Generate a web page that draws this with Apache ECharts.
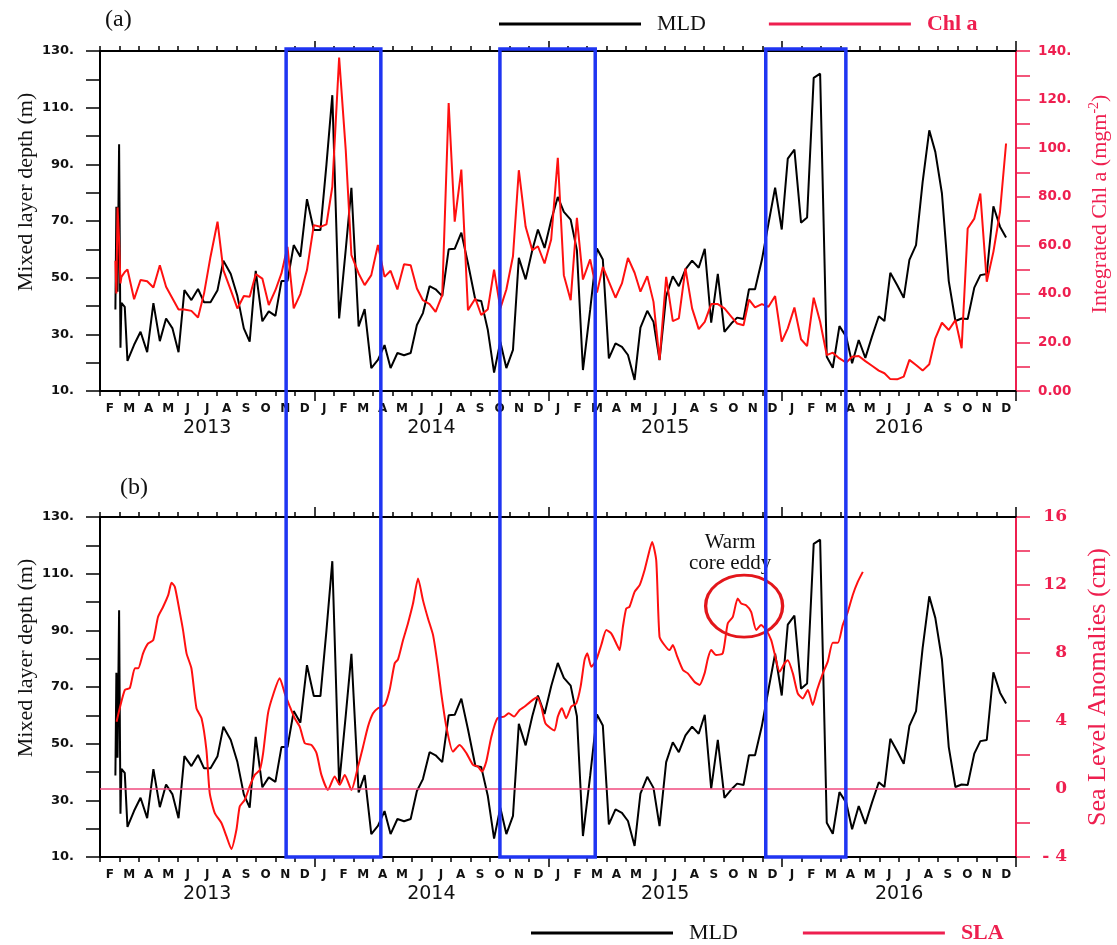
<!DOCTYPE html>
<html>
<head>
<meta charset="utf-8">
<script src="https://cdn.jsdelivr.net/npm/echarts@6/dist/echarts.min.js"></script>
<style>
html,body{margin:0;padding:0;background:#fff;}
#chart{width:1117px;height:945px;}
</style>
</head>
<body>
<div id="chart"></div>
<script>
// x positions are months since 1 Jan 2013 (1 = 1 Feb 2013, 48 = 1 Jan 2017)
const profileMonth = [
  1.79,1.84,1.90,1.98,2.05,2.10,2.27,2.41,2.75,3.08,
  3.42,3.74,4.07,4.39,4.72,5.03,5.33,5.69,6.03,6.34,
  6.67,7.03,7.33,7.71,8.05,8.38,8.68,8.99,9.33,9.66,
  10.00,10.31,10.62,10.94,11.28,11.62,11.97,12.31,12.62,12.92,
  13.27,13.61,13.90,14.27,14.58,14.92,15.26,15.60,15.91,16.26,
  16.60,16.94,17.26,17.57,17.91,18.22,18.56,18.89,19.20,19.54,
  19.88,20.26,20.56,20.90,21.22,21.54,21.85,22.19,22.49,22.84,
  23.18,23.47,23.81,24.15,24.49,24.80,25.15,25.47,25.78,26.15,
  26.50,26.80,27.11,27.45,27.78,28.09,28.43,28.73,29.08,29.40,
  29.71,30.05,30.39,30.70,31.04,31.38,31.72,32.03,32.36,32.70,
  33.04,33.39,33.69,34.02,34.30,34.61,34.96,35.30,35.64,35.98,
  36.29,36.63,36.97,37.28,37.62,37.95,38.29,38.60,38.94,39.29,
  39.59,39.93,40.27,40.61,40.96,41.25,41.55,41.90,42.24,42.53,
  42.87,43.21,43.55,43.86,44.20,44.55,44.89,45.21,45.52,45.86,
  46.17,46.50,46.84,47.18,47.49
];
const mld = [
  38.8,75.0,45.0,97.1,25.3,41.1,39.7,20.6,26.3,30.9,
  23.7,41.0,27.6,35.6,32.1,23.7,45.6,42.1,46.0,41.3,
  41.3,45.6,56.0,51.3,43.5,32.1,27.4,52.4,34.6,38.1,
  36.5,48.8,48.8,61.5,57.4,77.7,66.8,66.8,90.0,114.4,
  35.6,60.0,81.7,32.8,38.9,18.1,21.0,26.2,18.1,23.4,
  22.6,23.4,33.3,37.5,47.0,45.9,43.5,60.0,60.2,65.9,
  55.1,42.1,41.8,31.5,16.5,27.4,18.1,24.5,57.0,49.4,
  59.7,67.0,60.5,70.3,78.5,73.2,70.5,59.7,17.4,38.6,
  60.3,56.4,21.5,26.8,25.6,22.7,13.9,32.4,38.3,34.4,
  20.9,43.5,50.5,47.0,52.9,56.0,53.5,60.2,34.1,51.3,
  30.9,33.8,35.9,35.4,45.9,45.9,56.2,69.1,81.8,67.0,
  92.0,95.2,69.4,71.2,120.5,122.0,22.1,18.2,32.9,29.2,
  19.8,28.0,21.7,29.2,36.4,34.7,51.7,47.4,42.9,56.3,
  61.5,83.8,102.0,94.4,79.7,48.8,34.7,35.6,35.4,46.5,
  50.9,51.3,75.2,68.0,64.2
];
const chl = [
  53.6,40.2,75.6,62.4,44.3,47.0,49.0,50.0,37.8,45.7,
  45.2,42.6,51.8,42.9,38.1,33.6,33.6,33.0,30.3,40.2,
  55.3,69.7,49.8,41.5,34.0,39.1,38.8,48.1,46.3,35.4,
  41.5,48.4,59.4,34.0,39.9,49.8,68.3,67.6,68.6,84.1,
  137.3,99.1,55.9,48.4,43.6,47.7,60.1,47.0,49.5,41.8,
  52.2,51.8,42.2,37.4,35.8,32.6,39.5,118.6,69.7,91.2,
  33.3,38.1,31.3,33.7,50.0,34.0,41.8,55.5,90.9,67.6,
  58.0,59.6,52.5,62.4,96.0,47.7,37.4,71.3,45.9,54.2,
  40.5,51.1,45.0,38.4,44.3,54.8,48.7,40.9,47.3,36.7,
  12.8,47.0,28.8,29.9,50.5,34.0,25.5,28.5,35.8,35.8,
  34.0,30.6,27.8,27.1,37.6,34.4,35.8,34.7,39.1,20.3,
  25.8,34.4,21.3,18.5,38.4,28.5,14.8,15.8,13.4,11.7,
  14.1,14.4,12.3,10.4,8.4,7.3,4.9,4.8,5.9,12.8,
  10.7,8.4,11.0,21.7,28.1,25.1,29.2,17.6,66.9,71.0,
  81.3,45.0,57.3,73.8,101.9
];
const slaMonth = [
  1.85,2.27,2.53,2.79,2.96,3.21,3.47,3.73,3.98,4.24,4.50,4.67,4.84,5.09,5.26,5.44,5.69,5.95,6.21,6.46,
  6.63,6.89,7.23,7.49,7.74,8.00,8.17,8.43,8.68,8.94,9.20,9.37,9.62,9.88,10.22,10.48,10.74,10.99,11.25,11.51,
  11.85,12.11,12.36,12.70,13.04,13.30,13.56,13.90,14.24,14.50,14.75,15.01,15.26,15.61,15.86,16.12,16.29,16.55,16.80,17.06,
  17.32,17.57,17.83,18.09,18.34,18.51,18.77,19.11,19.45,19.80,20.14,20.39,20.60,20.82,21.08,21.39,21.73,21.97,22.24,22.53,
  22.79,23.09,23.43,23.64,23.85,24.12,24.32,24.49,24.70,24.92,25.18,25.44,25.66,25.86,26.00,26.21,26.46,26.72,26.98,27.23,
  27.49,27.66,27.83,28.00,28.17,28.43,28.69,28.94,29.11,29.33,29.54,29.71,29.96,30.22,30.39,30.62,30.91,31.16,31.50,31.76,
  32.02,32.19,32.36,32.61,32.95,33.21,33.47,33.72,33.90,34.15,34.41,34.67,34.92,35.18,35.44,35.61,35.87,36.12,36.29,36.55,
  36.80,37.06,37.32,37.57,37.79,38.09,38.34,38.60,38.86,39.11,39.37,39.62,39.88,40.14
];
const sla = [
  3.96,5.82,5.94,7.10,7.10,7.98,8.56,8.76,10.13,10.72,11.40,12.13,11.89,10.42,9.35,7.98,7.10,4.75,4.16,2.30,
  -0.24,-1.42,-2.00,-2.79,-3.53,-2.40,-1.03,-0.63,0.15,0.83,1.13,2.11,4.45,5.53,6.51,5.63,4.85,4.16,3.67,2.69,
  2.59,2.11,0.83,-0.05,0.74,0.25,0.83,-0.05,1.32,2.50,3.67,4.45,4.75,4.94,5.82,7.39,7.62,8.76,9.74,10.91,
  12.38,11.11,10.03,9.05,7.19,5.63,3.67,2.20,2.59,2.11,1.42,1.32,1.03,1.62,3.08,4.16,4.26,4.45,4.26,4.65,
  4.85,5.14,5.39,4.85,3.87,3.57,3.44,4.26,4.75,4.16,4.85,5.04,6.02,7.58,7.98,7.19,7.58,8.47,9.35,9.15,
  8.56,8.17,9.54,10.62,10.72,11.60,11.99,12.87,13.65,14.53,13.45,8.95,8.47,8.17,8.47,7.78,7.00,6.80,6.31,6.12,
  6.80,7.68,8.17,7.88,7.98,9.74,10.13,11.21,10.91,10.81,10.42,9.35,9.64,9.35,8.76,7.98,6.90,7.39,7.58,6.80,
  5.63,5.33,5.82,4.94,5.82,6.80,7.49,8.60,8.60,9.64,10.42,11.40,12.18,12.77
];
const monthLetters = ['J','F','M','A','M','J','J','A','S','O','N','D'];
const yearLabels = ['2013','2014','2015','2016'];
const yearCenters = [6.5, 18, 30, 42];
const yearBounds = [12, 24, 36, 48];
const boxMonths = [[10.55, 15.41], [21.52, 26.41], [35.16, 39.27]];
const eddyCenter = [34.05, 10.76];
const eddyTextAt = [33.33, 13.9];

const RED_AXIS = '#ee1f4f';
const RED_LINE = '#ff1010';
const monthCenters = [];
for (let m = 1; m < 48; m++) monthCenters.push(m + 0.5);

const pair = (xs, ys) => xs.map((x, i) => [x, ys[i]]);

function xAxes(g) {
  const common = { gridIndex: g, type: 'value', min: 1, max: 48, interval: 1, splitLine: { show: false } };
  const tickStyle = { color: '#000', width: 1.5 };
  return [
    Object.assign({}, common, {
      position: 'bottom',
      axisLine: { show: true, onZero: false, lineStyle: { color: '#000', width: 2 } },
      axisTick: { show: true, length: 5, lineStyle: tickStyle },
      axisLabel: {
        show: true, customValues: monthCenters, margin: 12,
        formatter: v => monthLetters[Math.floor(v) % 12],
        fontFamily: 'DejaVu Sans', fontWeight: 'bold', fontSize: 12, color: '#111'
      }
    }),
    Object.assign({}, common, {
      position: 'bottom',
      axisLine: { show: false, onZero: false },
      axisTick: { show: true, customValues: yearBounds, length: 10, lineStyle: tickStyle },
      axisLabel: {
        show: true, customValues: yearCenters, margin: 28,
        formatter: v => yearLabels[Math.floor((v - 1) / 12)],
        fontFamily: 'DejaVu Sans', fontSize: 19, color: '#111'
      }
    }),
    Object.assign({}, common, {
      position: 'top',
      axisLine: { show: true, onZero: false, lineStyle: { color: '#000', width: 2 } },
      axisTick: { show: true, length: 5, lineStyle: tickStyle },
      axisLabel: { show: false }
    }),
    Object.assign({}, common, {
      position: 'top',
      axisLine: { show: false, onZero: false },
      axisTick: { show: true, customValues: yearBounds, length: 10, lineStyle: tickStyle },
      axisLabel: { show: false }
    })
  ];
}

function mldAxis(g) {
  return {
    gridIndex: g, type: 'value', position: 'left', min: 10, max: 130, interval: 10,
    axisLine: { show: true, lineStyle: { color: '#000', width: 2 } },
    axisTick: { show: true, length: 14, lineStyle: { color: '#000', width: 1.5 } },
    axisLabel: {
      margin: 26, formatter: v => ((v - 10) % 20 === 0 ? v + '.' : ''),
      fontFamily: 'DejaVu Sans', fontWeight: 'bold', fontSize: 13, color: '#111'
    },
    splitLine: { show: false },
    name: 'Mixed layer depth (m)', nameLocation: 'middle', nameRotate: 90, nameGap: 63,
    nameMoveOverlap: false,
    nameTextStyle: { fontFamily: 'Liberation Serif', fontSize: 22, color: '#111', padding: [0, 0, 0, 58] }
  };
}

const option = {
  animation: false,
  backgroundColor: '#fff',
  title: [
    { text: '(a)', left: 100, top: 3, textStyle: { fontFamily: 'Liberation Serif', fontSize: 24, fontWeight: 'normal', color: '#111' } },
    { text: '(b)', left: 115, top: 471, textStyle: { fontFamily: 'Liberation Serif', fontSize: 24, fontWeight: 'normal', color: '#111' } }
  ],
  legend: [
    {
      left: 499, top: 13, padding: 0, icon: 'rect', itemWidth: 142, itemHeight: 3, itemGap: 63,
      selectedMode: false,
      textStyle: { fontFamily: 'Liberation Serif', fontSize: 22, color: '#111', padding: [0, 0, 0, 11] },
      data: [
        { name: 'MLD', itemStyle: { color: '#000' } },
        { name: 'Chl a', itemStyle: { color: RED_AXIS }, textStyle: { color: RED_AXIS, fontWeight: 'bold', fontFamily: 'Liberation Serif', fontSize: 22, padding: [0, 0, 0, 11] } }
      ]
    },
    {
      left: 531, top: 922, padding: 0, icon: 'rect', itemWidth: 142, itemHeight: 3, itemGap: 65,
      selectedMode: false,
      textStyle: { fontFamily: 'Liberation Serif', fontSize: 22, color: '#111', padding: [0, 0, 0, 11] },
      data: [
        { name: 'MLD', itemStyle: { color: '#000' } },
        { name: 'SLA', itemStyle: { color: RED_AXIS }, textStyle: { color: RED_AXIS, fontWeight: 'bold', fontFamily: 'Liberation Serif', fontSize: 22, padding: [0, 0, 0, 11] } }
      ]
    }
  ],
  grid: [
    { left: 100, right: 101, top: 51, height: 340, containLabel: false, outerBoundsMode: 'none' },
    { left: 100, right: 101, top: 517, height: 340, containLabel: false, outerBoundsMode: 'none' }
  ],
  xAxis: xAxes(0).concat(xAxes(1)),
  yAxis: [
    mldAxis(0),
    {
      gridIndex: 0, type: 'value', position: 'right', min: 0, max: 140, interval: 10,
      axisLine: { show: true, lineStyle: { color: RED_AXIS, width: 2 } },
      axisTick: { show: true, length: 14, lineStyle: { color: RED_AXIS, width: 1.5 } },
      axisLabel: {
        margin: 22,
        formatter: v => (v % 20 !== 0 ? '' : v === 0 ? '0.00' : v < 100 ? v + '.0' : v + '.'),
        fontFamily: 'DejaVu Sans', fontWeight: 'bold', fontSize: 13.5, color: RED_AXIS
      },
      splitLine: { show: false },
      name: '{a|Integrated Chl a (mgm}{s|-2}{a|)}', nameLocation: 'middle', nameRotate: 90, nameGap: 71,
      nameMoveOverlap: false,
      nameTextStyle: {
        color: RED_AXIS, fontFamily: 'Liberation Serif', fontSize: 22, padding: [0, 0, 0, 34],
        rich: {
          a: { color: RED_AXIS, fontFamily: 'Liberation Serif', fontSize: 22, lineHeight: 26 },
          s: { color: RED_AXIS, fontFamily: 'Liberation Serif', fontSize: 14, lineHeight: 26, verticalAlign: 'top' }
        }
      }
    },
    mldAxis(1),
    {
      gridIndex: 1, type: 'value', position: 'right', min: -4, max: 16, interval: 2,
      axisLine: { show: true, lineStyle: { color: RED_AXIS, width: 2 } },
      axisTick: { show: true, length: 14, lineStyle: { color: RED_AXIS, width: 1.5 } },
      axisLabel: {
        margin: 51, align: 'right',
        formatter: v => (v % 4 !== 0 ? '' : v < 0 ? '- ' + Math.abs(v) : String(v)),
        fontFamily: 'DejaVu Serif', fontWeight: 'bold', fontSize: 17, color: RED_AXIS
      },
      splitLine: { show: false },
      name: 'Sea Level Anomalies (cm)', nameLocation: 'middle', nameRotate: 90, nameGap: 69,
      nameMoveOverlap: false,
      nameTextStyle: { color: RED_AXIS, fontFamily: 'Liberation Serif', fontSize: 26 }
    }
  ],
  series: [
    {
      name: 'MLD', type: 'line', xAxisIndex: 0, yAxisIndex: 0, data: pair(profileMonth, mld),
      symbol: 'none', showSymbol: false, color: '#000', lineStyle: { color: '#000', width: 2 }, z: 2
    },
    {
      name: 'Chl a', type: 'line', xAxisIndex: 0, yAxisIndex: 1, data: pair(profileMonth, chl),
      symbol: 'none', showSymbol: false, color: RED_LINE, lineStyle: { color: RED_LINE, width: 2 }, z: 3
    },
    {
      name: 'MLD', type: 'line', xAxisIndex: 4, yAxisIndex: 2, data: pair(profileMonth, mld),
      symbol: 'none', showSymbol: false, color: '#000', lineStyle: { color: '#000', width: 2 }, z: 2
    },
    {
      name: 'SLA', type: 'line', xAxisIndex: 4, yAxisIndex: 3, data: pair(slaMonth, sla),
      symbol: 'none', showSymbol: false, smooth: 0.2, color: RED_LINE, lineStyle: { color: RED_LINE, width: 2 }, z: 3,
      markLine: {
        silent: true, symbol: 'none', animation: false,
        label: { show: false },
        lineStyle: { color: '#f04a7e', width: 1.5, type: 'solid' },
        data: [{ yAxis: 0 }]
      },
      markPoint: {
        silent: true, animation: false,
        data: [
          {
            coord: eddyCenter, symbol: 'circle', symbolSize: [77, 62],
            itemStyle: { color: 'rgba(0,0,0,0)', borderColor: '#e3161b', borderWidth: 3 },
            label: { show: false }
          },
          {
            coord: eddyTextAt, symbol: 'circle', symbolSize: 1,
            itemStyle: { color: 'rgba(0,0,0,0)' },
            label: {
              show: true, position: 'inside', formatter: 'Warm\ncore eddy',
              fontFamily: 'Liberation Serif', fontSize: 21, lineHeight: 21, color: '#111'
            }
          }
        ]
      }
    }
  ]
};

const chart = echarts.init(document.getElementById('chart'), null, { renderer: 'canvas' });
chart.setOption(option);

// study windows (blue boxes) spanning both panels, placed through the axes' scales
const yTop = chart.convertToPixel({ yAxisIndex: 0 }, 130);
const yBottom = chart.convertToPixel({ yAxisIndex: 2 }, 10);
chart.setOption({
  graphic: boxMonths.map(([a, b]) => {
    const x1 = chart.convertToPixel({ xAxisIndex: 0 }, a);
    const x2 = chart.convertToPixel({ xAxisIndex: 0 }, b);
    return {
      type: 'rect', silent: true, z: 100,
      shape: { x: x1, y: yTop - 2, width: x2 - x1, height: yBottom - yTop + 2 },
      style: { fill: 'none', stroke: '#1f35f2', lineWidth: 3.5 }
    };
  })
});
</script>
</body>
</html>
